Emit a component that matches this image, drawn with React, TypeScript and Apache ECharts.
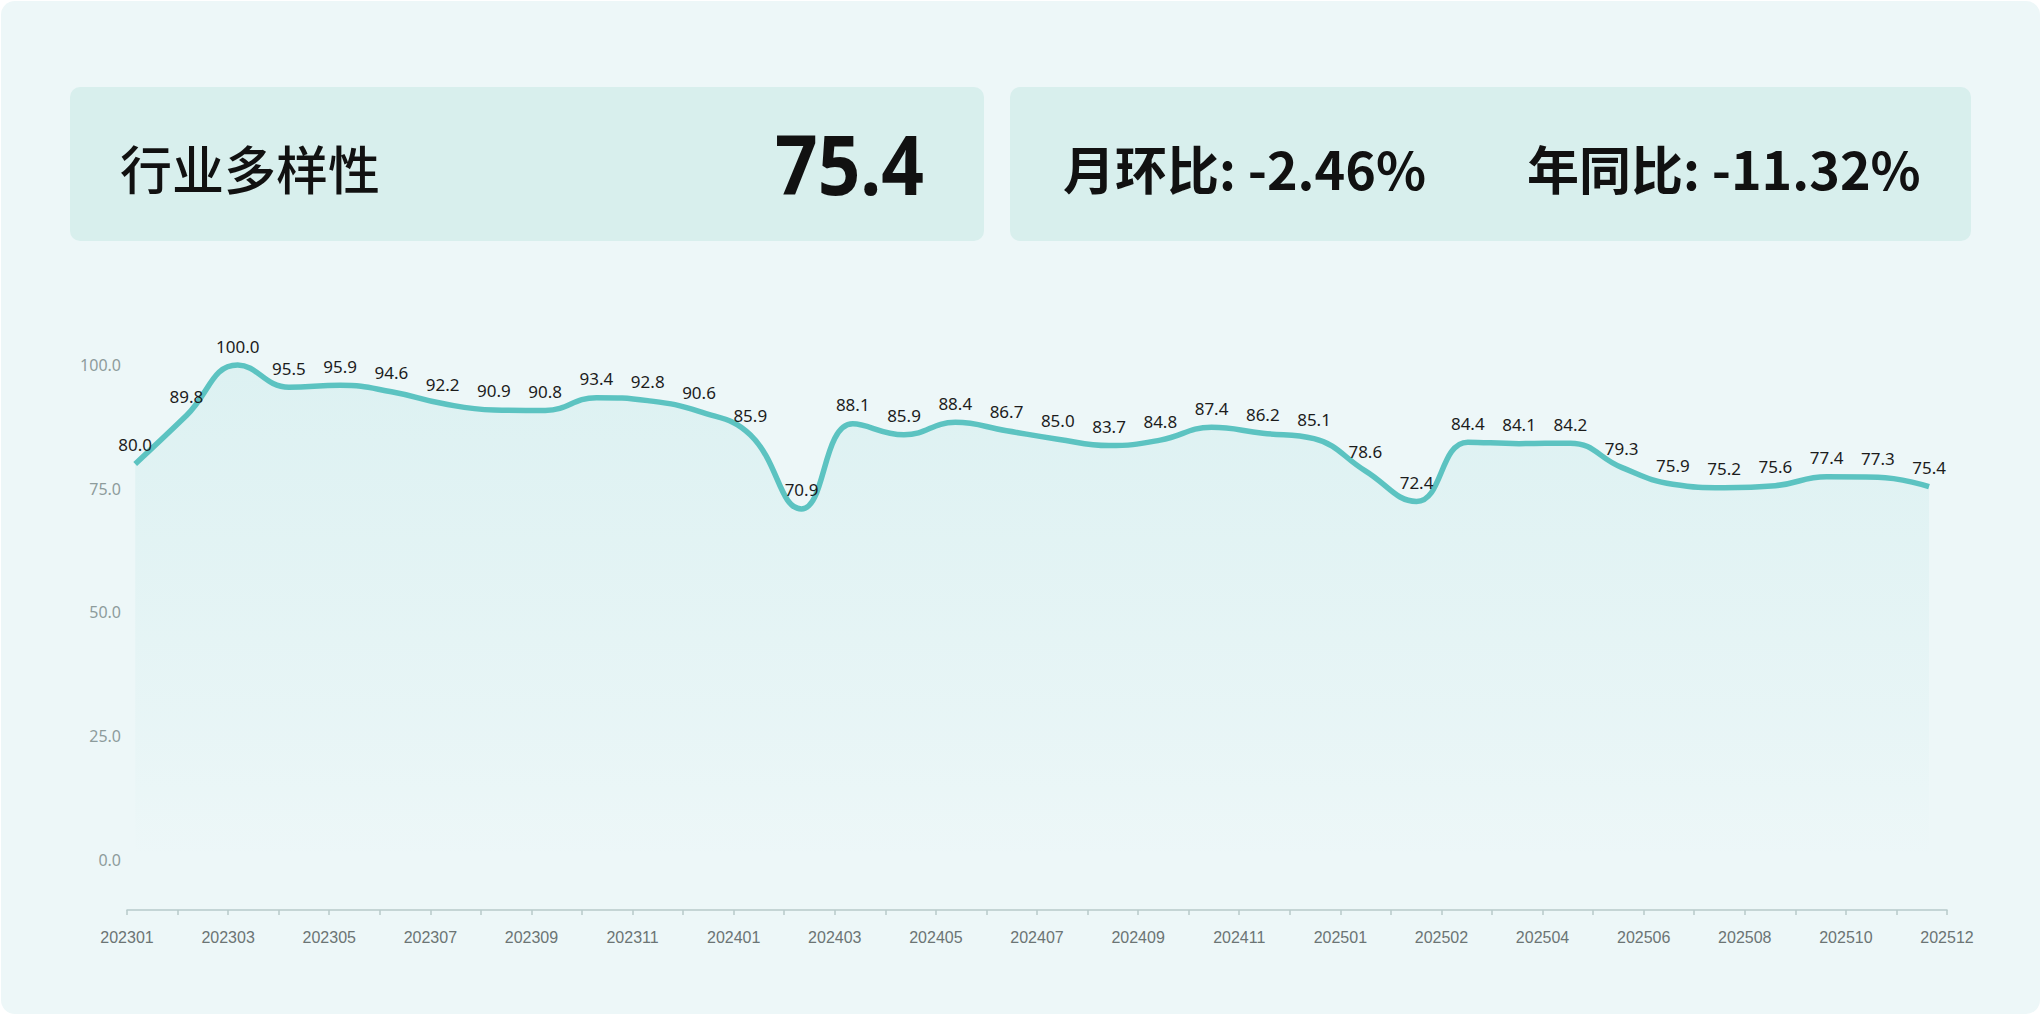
import React, { useEffect, useRef } from 'react';
import * as echarts from 'echarts';

const axisLabels = [
  '202301', '202302', '202303', '202304', '202305', '202306', '202307', '202308', '202309', '202310', '202311', '202312',
  '202401', '202402', '202403', '202404', '202405', '202406', '202407', '202408', '202409', '202410', '202411', '202412',
  '202501', '202501', '202502', '202503', '202504', '202505', '202506', '202507', '202508', '202509', '202510', '202511', '202512',
];

const months = [
  '202301', '202302', '202303', '202304', '202305', '202306', '202307', '202308', '202309', '202310', '202311', '202312',
  '202401', '202402', '202403', '202404', '202405', '202406', '202407', '202408', '202409', '202410', '202411', '202412',
  '202501', '202502', '202503', '202504', '202505', '202506', '202507', '202508', '202509', '202510', '202511', '202512',
];

const values = [
  80.0, 89.8, 100.0, 95.5, 95.9, 94.6, 92.2, 90.9, 90.8, 93.4, 92.8, 90.6,
  85.9, 70.9, 88.1, 85.9, 88.4, 86.7, 85.0, 83.7, 84.8, 87.4, 86.2, 85.1,
  78.6, 72.4, 84.4, 84.1, 84.2, 79.3, 75.9, 75.2, 75.6, 77.4, 77.3, 75.4,
];

const kpiTitle = '行业多样性';
const kpiValue = '75.4';
const momText = '月环比: -2.46%';
const yoyText = '年同比: -11.32%';

const CJK = '"Noto Sans CJK SC", "Noto Sans", sans-serif';
const LATIN = '"Noto Sans", Roboto, sans-serif';

export default function App() {
  const ref = useRef<HTMLDivElement>(null);

  useEffect(() => {
    document.body.style.margin = '0';
    const chart = echarts.init(ref.current as HTMLDivElement, null, { renderer: 'svg' });
    const seriesData = values.map((v, i) => ({ name: months[i], value: [i, v] }));
    chart.setOption({
      animation: false,
      backgroundColor: 'transparent',
      graphic: [
        { type: 'rect', z: -10, shape: { x: 1, y: 1, width: 2039, height: 1013, r: 14 }, style: { fill: '#edf7f8' } },
        { type: 'rect', z: -9, shape: { x: 70, y: 87, width: 914, height: 154, r: 10 }, style: { fill: '#d8efed' } },
        { type: 'rect', z: -9, shape: { x: 1010, y: 87, width: 961, height: 154, r: 10 }, style: { fill: '#d8efed' } },
        {
          type: 'text', x: 120, y: 167,
          style: { text: kpiTitle, fontSize: 52, fontWeight: 500, fontFamily: CJK, fill: '#111', align: 'left', verticalAlign: 'middle' },
        },
        {
          type: 'text', x: 924, y: 163, scaleX: 0.91,
          style: { text: kpiValue, fontSize: 82, fontWeight: 'bold', fontFamily: LATIN, fill: '#111', align: 'right', verticalAlign: 'middle' },
        },
        {
          type: 'text', x: 1063, y: 167,
          style: { text: momText, fontSize: 52, fontWeight: 'bold', fontFamily: CJK, fill: '#111', align: 'left', verticalAlign: 'middle' },
        },
        {
          type: 'text', x: 1527, y: 167,
          style: { text: yoyText, fontSize: 52, fontWeight: 'bold', fontFamily: CJK, fill: '#111', align: 'left', verticalAlign: 'middle' },
        },
      ],
      grid: { left: 127, right: 95, top: 365, bottom: 156.5, containLabel: false },
      xAxis: [
        {
          type: 'category',
          data: axisLabels,
          boundaryGap: false,
          offset: 50.5,
          axisLine: { show: true, onZero: false, lineStyle: { color: '#b7caca', width: 1.5 } },
          axisTick: { show: true, interval: 0, length: 5, lineStyle: { color: '#b7caca', width: 1.5 } },
          axisLabel: { interval: 1, color: '#6b7474', fontSize: 16, margin: 19, fontFamily: '"Liberation Sans", Arial, sans-serif' },
          splitLine: { show: false },
        },
        {
          type: 'value',
          show: false,
          min: -0.16,
          max: 35.35,
          splitLine: { show: false },
        },
      ],
      yAxis: {
        type: 'value',
        min: 0,
        max: 100,
        interval: 25,
        axisLine: { show: false },
        axisTick: { show: false },
        splitLine: { show: false },
        axisLabel: {
          color: '#8d9c9c', fontSize: 16, margin: 6, fontFamily: LATIN,
          formatter: (v: number) => v.toFixed(1),
        },
      },
      series: [
        {
          type: 'line',
          xAxisIndex: 1,
          yAxisIndex: 0,
          data: seriesData,
          smooth: 0.45,
          clip: false,
          symbol: 'circle',
          symbolSize: 1,
          showSymbol: true,
          itemStyle: { color: 'rgba(0,0,0,0)', borderWidth: 0 },
          lineStyle: { color: '#5cc3c1', width: 5.5 },
          areaStyle: {
            color: new echarts.graphic.LinearGradient(0, 0, 0, 1, [
              { offset: 0, color: 'rgba(92,195,193,0.16)' },
              { offset: 0.75, color: 'rgba(92,195,193,0.05)' },
              { offset: 1, color: 'rgba(92,195,193,0.0)' },
            ]),
          },
          label: {
            show: true,
            position: 'top',
            distance: 10,
            color: '#1c1c1c',
            fontSize: 17,
            fontFamily: LATIN,
            formatter: (p: any) => Number(p.value[1]).toFixed(1),
          },
          emphasis: { disabled: true },
        },
      ],
    });
    return () => chart.dispose();
  }, []);

  return (
    <div
      ref={ref}
      style={{ position: 'fixed', left: 0, top: 0, width: 2042, height: 1016, background: '#ffffff' }}
    />
  );
}
